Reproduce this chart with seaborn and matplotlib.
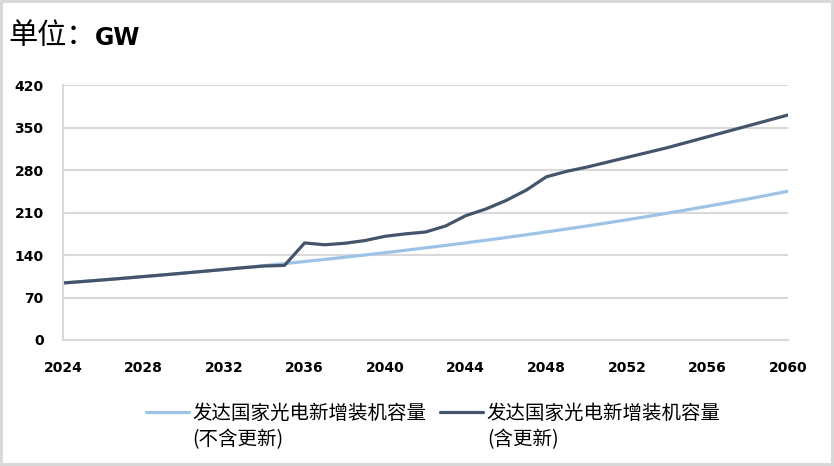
import matplotlib
matplotlib.use("Agg")
import matplotlib.pyplot as plt
from matplotlib.lines import Line2D
from matplotlib.transforms import Affine2D
import pandas as pd
import seaborn as sns

sns.set_theme(style="white")
plt.rcParams['font.family'] = ['Noto Sans CJK SC', 'DejaVu Sans']
plt.rcParams['text.color'] = 'black'

# data (GW)
years = list(range(2024, 2061))
without_renewal = [94.0, 96.5, 99.1, 101.8, 104.6, 107.4, 110.3, 113.3, 116.3, 119.5,
                   122.7, 126.0, 129.4, 132.9, 136.5, 140.2, 144.0, 147.9, 151.9, 156.0,
                   160.2, 164.5, 168.9, 173.5, 178.2, 183.0, 187.9, 193.0, 198.2, 203.5,
                   209.0, 214.7, 220.5, 226.4, 232.5, 238.8, 245.3]
with_renewal = [94.0, 96.5, 99.1, 101.8, 104.6, 107.4, 110.3, 113.3, 116.3, 119.3,
                122.0, 123.0, 160.0, 157.0, 159.5, 164.0, 171.0, 175.0, 178.0, 188.0,
                205.0, 216.0, 230.0, 247.0, 269.0, 278.0, 285.0, 293.0, 301.0, 309.0,
                317.0, 326.0, 335.0, 344.0, 353.0, 362.0, 371.0]
series_names = ["发达国家光电新增装机容量\n(不含更新)", "发达国家光电新增装机容量\n(含更新)"]
colours = ["#9dc3e6", "#44546a"]
x_ticks = list(range(2024, 2061, 4))
y_ticks = [0, 70, 140, 210, 280, 350, 420]

df = pd.DataFrame({
    "year": years * 2,
    "value": without_renewal + with_renewal,
    "series": [series_names[0]] * len(years) + [series_names[1]] * len(years),
})

fig = plt.figure(figsize=(8.34, 4.66), dpi=100)
ax = fig.add_axes([0.0755, 0.2704, 0.8693, 0.5466])

sns.lineplot(data=df, x="year", y="value", hue="series", palette=colours,
             linewidth=2.3, ax=ax, legend=False)

ax.set_xlim(2024, 2060)
ax.set_ylim(0, 420)
ax.set_xticks(x_ticks)
ax.set_yticks(y_ticks)
ax.set_xticklabels([str(x) for x in x_ticks], fontsize=10, fontweight='bold', family='DejaVu Sans')
ax.set_yticklabels([str(y) for y in y_ticks], fontsize=10, fontweight='bold', family='DejaVu Sans')
ax.tick_params(axis='both', length=0, colors='black')
ax.tick_params(axis='y', pad=14)
ax.tick_params(axis='x', pad=15)
ax.set_xlabel("")
ax.set_ylabel("")

ax.grid(axis='y', color='#d9d9d9', linewidth=1.5)
ax.grid(axis='x', visible=False)
for side in ['top', 'right']:
    ax.spines[side].set_visible(False)
for side in ['left', 'bottom']:
    ax.spines[side].set_color('#d9d9d9')
    ax.spines[side].set_linewidth(1.5)

handles = [Line2D([0], [0], color=c, linewidth=2.3) for c in colours]
leg = ax.legend(handles, series_names, loc='upper center', bbox_to_anchor=(0.511, -0.18),
                ncol=2, frameon=False, fontsize=14, handlelength=2.2,
                handletextpad=0.2, columnspacing=0.7)
for t in leg.get_texts():
    t.set_linespacing(1.3)
# put the legend swatch next to the first line of each label
for ln in leg.get_lines():
    ln.set_transform(ln.get_transform() + Affine2D().translate(0, 16))

# title: Chinese part regular, unit bold
t_unit = fig.text(8 / 834, 1 - 36 / 466, "单位：", fontsize=21, ha='left', va='center')
ax.annotate("GW", xy=(1, 0), xycoords=t_unit, xytext=(0, 1), textcoords='offset points',
            fontsize=17, fontweight='bold', family='DejaVu Sans', ha='left', va='bottom',
            annotation_clip=False)

fig.patch.set_edgecolor('#d9d9d9')
fig.patch.set_linewidth(3)
fig.savefig("out.png", dpi=100, facecolor=fig.get_facecolor(), edgecolor=fig.get_edgecolor())
